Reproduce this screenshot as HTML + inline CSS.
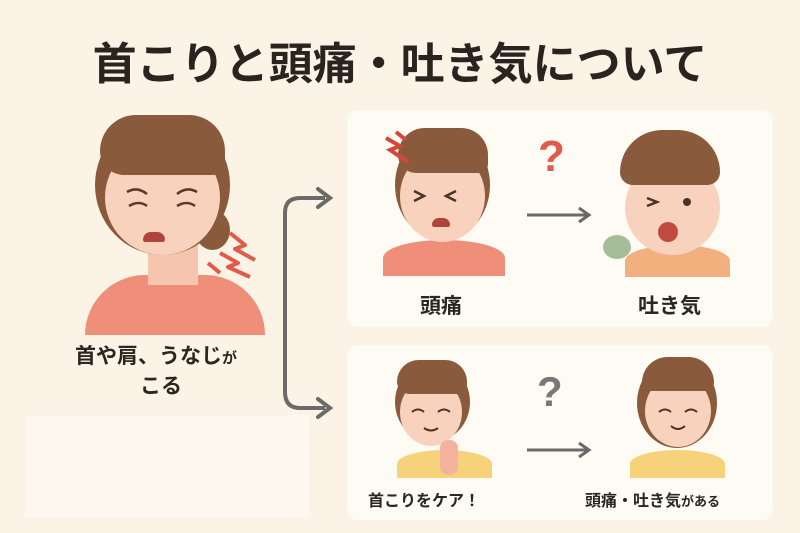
<!DOCTYPE html>
<html><head><meta charset="utf-8"><style>
body{margin:0;width:800px;height:533px;background:#fbf4e6;position:relative;overflow:hidden;font-family:"Liberation Sans","Noto Sans CJK JP",sans-serif;color:#2b2622}
.a{position:absolute}
.panel{position:absolute;background:#fefbf5;border-radius:12px}
.t{position:absolute;font-weight:bold;white-space:nowrap}
.hair{position:absolute;background:#8a5a3c;border-radius:50%}
.face{position:absolute;background:#f9d2bd;border-radius:50%}
.body{position:absolute;border-radius:50% 50% 0 0}
</style></head><body>
<div class="t" style="left:0;width:800px;text-align:center;top:28px;font-size:44px;color:#2a2420">首こりと頭痛・吐き気について</div>

<div class="a" style="left:25px;top:415px;width:284px;height:103px;background:#fdf8ef"></div>
<div class="panel" style="left:347px;top:110px;width:426px;height:217px"></div>
<div class="panel" style="left:347px;top:345px;width:426px;height:175px"></div>

<!-- left woman -->
<div class="body" style="left:85px;top:275px;width:180px;height:60px;background:#ef8f7a;border-radius:90px 90px 0 0"></div>
<div class="a" style="left:148px;top:235px;width:50px;height:50px;background:#f6c5ae"></div>
<div class="hair" style="left:95px;top:115px;width:135px;height:140px"></div>
<div class="hair" style="left:195px;top:210px;width:35px;height:40px"></div>
<div class="face" style="left:105px;top:140px;width:115px;height:115px"></div>
<div class="hair" style="left:100px;top:115px;width:125px;height:60px;border-radius:60px 60px 20px 40px"></div>
<svg class="a" style="left:115px;top:180px" width="100" height="40"><path d="M12 12 Q22 6 32 14 M62 14 Q72 6 82 12 M14 26 Q24 20 32 26 M62 26 Q72 20 80 26" stroke="#5a3a2a" stroke-width="2.5" fill="none"/></svg>
<div class="a" style="left:143px;top:232px;width:22px;height:10px;background:#b0433a;border-radius:10px 10px 3px 3px"></div>
<svg class="a" style="left:190px;top:225px" width="80" height="55"><path d="M40 8 L55 20 L45 24 L65 35 M30 28 L48 38 L38 42 L60 52 M18 38 L30 48" stroke="#e25a4a" stroke-width="4" fill="none" stroke-linejoin="round"/></svg>
<div class="t" style="left:75px;top:340px;font-size:21px">首や肩、うなじ<span style="font-size:15px">が</span></div>
<div class="t" style="left:140px;top:370px;font-size:21px">こる</div>

<!-- bracket arrows -->
<svg class="a" style="left:270px;top:180px" width="70" height="240">
<path d="M55 18 H30 Q15 18 15 33 V212 Q15 228 30 228 H55" fill="none" stroke="#6c6a69" stroke-width="4"/>
<path d="M48 9 L60 18 L48 27 M48 219 L60 228 L48 237" fill="none" stroke="#6c6a69" stroke-width="4" stroke-linecap="round"/>
</svg>

<!-- top panel -->
<div class="body" style="left:383px;top:240px;width:122px;height:36px;background:#ef8f7a"></div>
<div class="hair" style="left:395px;top:130px;width:95px;height:110px"></div>
<div class="face" style="left:400px;top:150px;width:85px;height:92px"></div>
<div class="hair" style="left:398px;top:128px;width:90px;height:45px;border-radius:45px 45px 15px 30px"></div>
<svg class="a" style="left:400px;top:185px" width="80" height="20"><path d="M14 6 L24 11 L14 16 M56 6 L46 11 L56 16" stroke="#4a3226" stroke-width="2.5" fill="none"/></svg>
<div class="a" style="left:432px;top:218px;width:18px;height:9px;background:#b0433a;border-radius:9px 9px 3px 3px"></div>
<svg class="a" style="left:378px;top:128px" width="40" height="40"><path d="M8 10 L22 18 L12 22 L30 34 M18 4 L28 12" stroke="#d8443c" stroke-width="4" fill="none"/></svg>
<div class="t" style="left:420px;top:290px;font-size:21px">頭痛</div>
<svg class="a" style="left:525px;top:205px" width="70" height="20"><path d="M2 10 H62 M54 3 L64 10 L54 17" stroke="#6c6a69" stroke-width="3" fill="none"/></svg>
<div class="t" style="left:538px;top:132px;font-size:44px;color:#e05b4c">?</div>
<div class="body" style="left:625px;top:245px;width:105px;height:32px;background:#f3b07f"></div>
<div class="face" style="left:625px;top:160px;width:95px;height:95px"></div>
<div class="hair" style="left:620px;top:130px;width:100px;height:55px;border-radius:50px 50px 15px 15px"></div>
<svg class="a" style="left:635px;top:190px" width="80" height="20"><path d="M12 8 L22 12 L12 16" stroke="#4a3226" stroke-width="2.5" fill="none"/><circle cx="52" cy="12" r="4" fill="#4a3226"/></svg>
<div class="a" style="left:658px;top:222px;width:20px;height:20px;background:#c04a40;border-radius:50%"></div>
<div class="a" style="left:603px;top:235px;width:28px;height:24px;background:#a7bd9a;border-radius:50%"></div>
<div class="t" style="left:638px;top:290px;font-size:21px">吐き気</div>

<!-- bottom panel -->
<div class="body" style="left:397px;top:450px;width:95px;height:28px;background:#f6d27a"></div>
<div class="hair" style="left:395px;top:362px;width:75px;height:80px"></div>
<div class="face" style="left:400px;top:378px;width:62px;height:68px"></div>
<div class="hair" style="left:397px;top:360px;width:70px;height:34px;border-radius:35px 35px 10px 20px"></div>
<svg class="a" style="left:400px;top:400px" width="62" height="40"><path d="M12 12 Q18 7 24 12 M38 12 Q44 7 50 12 M24 28 Q31 33 38 28" stroke="#4a3226" stroke-width="2" fill="none"/></svg>
<div class="a" style="left:440px;top:440px;width:18px;height:35px;background:#f3b39e;border-radius:8px"></div>
<div class="t" style="left:368px;top:487px;font-size:16px">首こりをケア！</div>
<svg class="a" style="left:525px;top:440px" width="70" height="20"><path d="M2 10 H62 M54 3 L64 10 L54 17" stroke="#6c6a69" stroke-width="3" fill="none"/></svg>
<div class="t" style="left:537px;top:368px;font-size:42px;color:#7a7876">?</div>
<div class="body" style="left:630px;top:450px;width:95px;height:28px;background:#f6d27a"></div>
<div class="hair" style="left:637px;top:358px;width:80px;height:90px"></div>
<div class="face" style="left:645px;top:375px;width:66px;height:72px"></div>
<div class="hair" style="left:642px;top:357px;width:72px;height:34px;border-radius:36px 36px 12px 12px"></div>
<svg class="a" style="left:645px;top:400px" width="66" height="40"><path d="M14 12 Q20 7 26 12 M40 12 Q46 7 52 12 M26 26 Q33 32 40 26" stroke="#4a3226" stroke-width="2" fill="none"/></svg>
<div class="t" style="left:585px;top:487px;font-size:16px">頭痛・吐き気<span style="font-size:13px">がある</span></div>
</body></html>
